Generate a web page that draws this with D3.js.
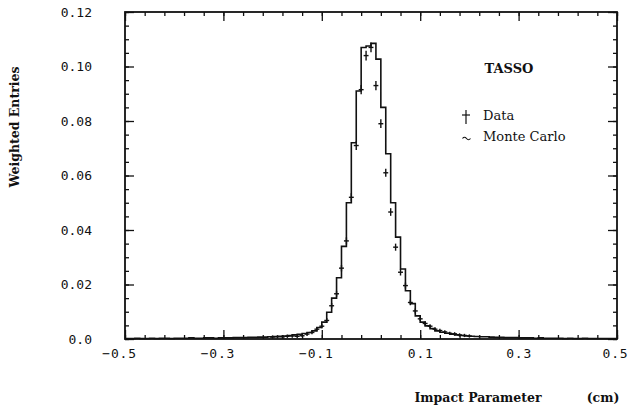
<!DOCTYPE html>
<html>
<head>
<meta charset="utf-8">
<script src="https://cdn.jsdelivr.net/npm/d3@7"></script>
<style>
  html, body { margin: 0; padding: 0; background: #fff; }
  svg { display: block; }
  .tick text { font-family: "DejaVu Sans Mono", monospace; font-size: 13px; fill: #111; }
  .serif { font-family: "DejaVu Serif", serif; fill: #111; }
</style>
</head>
<body>
<svg width="629" height="411"></svg>
<script>
// Monte Carlo histogram: 100 bins of 0.01 cm from -0.5 to 0.5
const binStart = -0.5;
const binWidth = 0.01;
const mcValues = [
  0.0002, 0.0002, 0.0003, 0.0002, 0.0002, 0.0003, 0.0002, 0.0003, 0.0003, 0.0002,
  0.0003, 0.0003, 0.0003, 0.0004, 0.0003, 0.0003, 0.0004, 0.0004, 0.0003, 0.0004,
  0.0004, 0.0004, 0.0005, 0.0005, 0.0005, 0.0006, 0.0006, 0.0007, 0.0007, 0.0008,
  0.0009, 0.0010, 0.0011, 0.0013, 0.0015, 0.0017, 0.0020, 0.0024, 0.0030, 0.0042,
  0.0062, 0.0098, 0.0150, 0.0225, 0.0340, 0.0500, 0.0720, 0.0910, 0.1070, 0.1075,
  0.1085, 0.1027, 0.0850, 0.0680, 0.0500, 0.0374, 0.0257, 0.0177, 0.0130, 0.0085,
  0.0062, 0.0048, 0.0038, 0.0030, 0.0025, 0.0021, 0.0018, 0.0015, 0.0013, 0.0011,
  0.0010, 0.0009, 0.0008, 0.0008, 0.0007, 0.0006, 0.0006, 0.0005, 0.0005, 0.0005,
  0.0004, 0.0004, 0.0004, 0.0003, 0.0004, 0.0003, 0.0003, 0.0003, 0.0003, 0.0002,
  0.0003, 0.0002, 0.0002, 0.0003, 0.0002, 0.0002, 0.0002, 0.0002, 0.0002, 0.0002
];

// data points, centred on -0.20 ... 0.20 in steps of 0.01
const dataCentres = d3.range(-20, 21).map(k => k / 100);
const dataValues = [
  0.0007, 0.0008, 0.0008, 0.0010, 0.0011, 0.0010, 0.0012, 0.0018, 0.0024, 0.0036,
  0.0047, 0.0068, 0.0122, 0.0166, 0.0260, 0.0360, 0.0520, 0.0710, 0.0915, 0.1040,
  0.1070,
  0.0930, 0.0790, 0.0610, 0.0466, 0.0337, 0.0245, 0.0196, 0.0134, 0.0103, 0.0074,
  0.0057, 0.0047, 0.0036, 0.0031, 0.0026, 0.0021, 0.0019, 0.0015, 0.0013, 0.0011
];
const dataErrors = [
  0.0006, 0.0006, 0.0006, 0.0006, 0.0006, 0.0006, 0.0006, 0.0007, 0.0007, 0.0008,
  0.0008, 0.0009, 0.0010, 0.0011, 0.0012, 0.0013, 0.0015, 0.0016, 0.0017, 0.0018,
  0.0018,
  0.0017, 0.0016, 0.0015, 0.0014, 0.0013, 0.0012, 0.0011, 0.0010, 0.0009, 0.0008,
  0.0008, 0.0007, 0.0007, 0.0007, 0.0006, 0.0006, 0.0006, 0.0006, 0.0006, 0.0006
];

const xMajorTicks = [-0.5, -0.3, -0.1, 0.1, 0.3, 0.5];
const xMinorTicks = d3.range(0, 26).map(i => -0.5 + i * 0.04);
const yMajorTicks = [0, 0.02, 0.04, 0.06, 0.08, 0.10, 0.12];
const yMinorTicks = d3.range(0, 25).map(i => i * 0.005);

const plotLeft = 125, plotRight = 617, plotTop = 12, plotBottom = 339;
const ink = "#111";

const svg = d3.select("svg");
const x = d3.scaleLinear().domain([-0.5, 0.5]).range([plotLeft, plotRight]);
const y = d3.scaleLinear().domain([0, 0.12]).range([plotBottom, plotTop]);

// axes, ticks pointing inward on all four sides
function styleAxis(g) {
  g.select(".domain").remove();
  g.selectAll(".tick line").attr("stroke", ink).attr("stroke-width", 1.3);
}
svg.append("g").attr("transform", `translate(0,${plotBottom})`)
  .call(d3.axisBottom(x).tickValues(xMinorTicks).tickSize(-4).tickFormat(""))
  .call(styleAxis);
const xAxis = svg.append("g").attr("transform", `translate(0,${plotBottom})`)
  .call(d3.axisBottom(x).tickValues(xMajorTicks).tickSize(-9).tickPadding(10)
    .tickFormat(d => d3.format(".1f")(d)))
  .call(styleAxis);
xAxis.selectAll(".tick text")
  .style("letter-spacing", "0.8px")
  .attr("dx", d => d < 0 ? -6 : (d === 0.5 ? -2 : 0));

svg.append("g").attr("transform", `translate(0,${plotTop})`)
  .call(d3.axisTop(x).tickValues(xMinorTicks).tickSize(-4).tickFormat(""))
  .call(styleAxis);
svg.append("g").attr("transform", `translate(0,${plotTop})`)
  .call(d3.axisTop(x).tickValues(xMajorTicks).tickSize(-9).tickFormat(""))
  .call(styleAxis);

svg.append("g").attr("transform", `translate(${plotLeft},0)`)
  .call(d3.axisLeft(y).tickValues(yMinorTicks).tickSize(-4).tickFormat(""))
  .call(styleAxis);
svg.append("g").attr("transform", `translate(${plotLeft},0)`)
  .call(d3.axisLeft(y).tickValues(yMajorTicks).tickSize(-9).tickPadding(33)
    .tickFormat(d => d === 0 ? "0.0" : d3.format(".2f")(d)))
  .call(styleAxis);

svg.append("g").attr("transform", `translate(${plotRight},0)`)
  .call(d3.axisRight(y).tickValues(yMinorTicks).tickSize(-4).tickFormat(""))
  .call(styleAxis);
svg.append("g").attr("transform", `translate(${plotRight},0)`)
  .call(d3.axisRight(y).tickValues(yMajorTicks).tickSize(-9).tickFormat(""))
  .call(styleAxis);

svg.append("rect")
  .attr("x", plotLeft).attr("y", plotTop)
  .attr("width", plotRight - plotLeft).attr("height", plotBottom - plotTop)
  .attr("fill", "none").attr("stroke", ink).attr("stroke-width", 1.8);

// Monte Carlo step histogram
const steps = mcValues.map((v, i) => [binStart + i * binWidth, v]);
steps.push([binStart + mcValues.length * binWidth, mcValues[mcValues.length - 1]]);
const stepLine = d3.line()
  .x(d => x(d[0])).y(d => y(d[1]))
  .curve(d3.curveStepAfter);
svg.append("path")
  .attr("d", stepLine(steps))
  .attr("fill", "none").attr("stroke", ink).attr("stroke-width", 1.6);

// data crosses
const pts = dataCentres.map((c, i) => ({ c, v: dataValues[i], e: dataErrors[i] }));
const cross = svg.append("g").attr("stroke", ink).attr("stroke-width", 1.4);
cross.selectAll("line.h").data(pts).join("line").attr("class", "h")
  .attr("x1", d => x(d.c - binWidth / 2)).attr("x2", d => x(d.c + binWidth / 2))
  .attr("y1", d => y(d.v)).attr("y2", d => y(d.v));
cross.selectAll("line.v").data(pts).join("line").attr("class", "v")
  .attr("x1", d => x(d.c)).attr("x2", d => x(d.c))
  .attr("y1", d => y(d.v - d.e)).attr("y2", d => y(d.v + d.e));

// labels
svg.append("text").attr("class", "serif")
  .attr("transform", "translate(19,127) rotate(-90)")
  .attr("text-anchor", "middle")
  .style("font-size", "12.5px").style("font-weight", "bold")
  .text("Weighted Entries");
svg.append("text").attr("class", "serif")
  .attr("x", 478).attr("y", 402).attr("text-anchor", "middle")
  .style("font-size", "12.5px").style("font-weight", "bold")
  .text("Impact Parameter");
svg.append("text").attr("class", "serif")
  .attr("x", 603).attr("y", 402).attr("text-anchor", "middle")
  .style("font-size", "12.5px").style("font-weight", "bold")
  .text("(cm)");

svg.append("text").attr("class", "serif")
  .attr("x", 509).attr("y", 73).attr("text-anchor", "middle")
  .style("font-size", "13px").style("font-weight", "bold")
  .text("TASSO");

// legend
const legend = svg.append("g");
legend.append("line").attr("x1", 466).attr("x2", 466).attr("y1", 110).attr("y2", 124)
  .attr("stroke", ink).attr("stroke-width", 1.2);
legend.append("line").attr("x1", 462).attr("x2", 470).attr("y1", 115).attr("y2", 115)
  .attr("stroke", ink).attr("stroke-width", 1.2);
legend.append("path").attr("d", "M462.5,138.5 q2,-2.5 4,0 t4,0")
  .attr("fill", "none").attr("stroke", ink).attr("stroke-width", 1.2);
legend.append("text").attr("class", "serif")
  .attr("x", 483).attr("y", 120).style("font-size", "13px").text("Data");
legend.append("text").attr("class", "serif")
  .attr("x", 483).attr("y", 141).style("font-size", "13px").text("Monte Carlo");
</script>
</body>
</html>
